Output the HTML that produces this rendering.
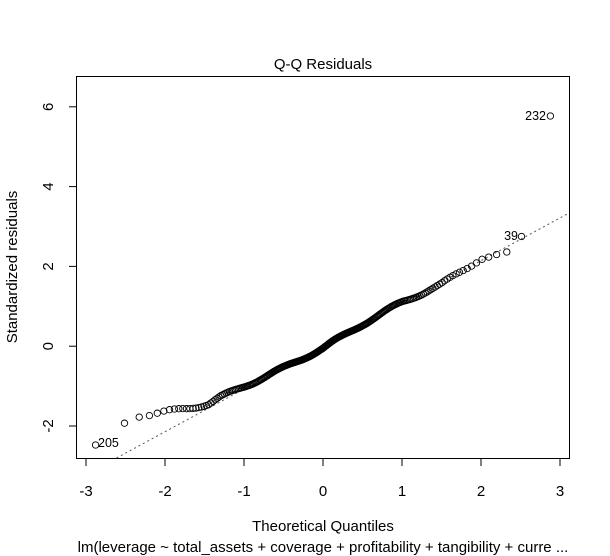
<!DOCTYPE html>
<html><head><meta charset="utf-8"><style>
html,body{margin:0;padding:0;background:#fff;}
svg{display:block;font-family:"Liberation Sans",Arial,sans-serif;}
</style></head><body>
<svg id="s" width="610" height="556" viewBox="0 0 610 556" xmlns="http://www.w3.org/2000/svg">
<rect x="0" y="0" width="610" height="556" fill="#fff"/>
<rect x="76.5" y="76.5" width="493" height="382" fill="none" stroke="#000" stroke-width="1"/>
<text x="323" y="69" font-size="15" text-anchor="middle">Q-Q Residuals</text>
<g stroke="#000" stroke-width="1">
<line x1="86" y1="458.5" x2="86" y2="466"/><line x1="165" y1="458.5" x2="165" y2="466"/>
<line x1="244" y1="458.5" x2="244" y2="466"/><line x1="323" y1="458.5" x2="323" y2="466"/>
<line x1="402" y1="458.5" x2="402" y2="466"/><line x1="481" y1="458.5" x2="481" y2="466"/>
<line x1="560" y1="458.5" x2="560" y2="466"/>
<line x1="69" y1="426" x2="76.5" y2="426"/><line x1="69" y1="346.2" x2="76.5" y2="346.2"/>
<line x1="69" y1="266.4" x2="76.5" y2="266.4"/><line x1="69" y1="186.6" x2="76.5" y2="186.6"/>
<line x1="69" y1="106.8" x2="76.5" y2="106.8"/>
</g>
<g font-size="15" text-anchor="middle">
<text x="86" y="496">-3</text><text x="165" y="496">-2</text><text x="244" y="496">-1</text>
<text x="323" y="496">0</text><text x="402" y="496">1</text><text x="481" y="496">2</text><text x="560" y="496">3</text>
<text transform="translate(53,426) rotate(-90)">-2</text>
<text transform="translate(53,346.2) rotate(-90)">0</text>
<text transform="translate(53,266.4) rotate(-90)">2</text>
<text transform="translate(53,186.6) rotate(-90)">4</text>
<text transform="translate(53,106.8) rotate(-90)">6</text>
<text x="323" y="531">Theoretical Quantiles</text>
<text x="323" y="552">lm(leverage ~ total_assets + coverage + profitability + tangibility + curre ...</text>
<text transform="translate(17,267) rotate(-90)">Standardized residuals</text>
</g>
<line x1="116.5" y1="458" x2="569.5" y2="212.8" stroke="#555" stroke-width="1" stroke-dasharray="2,3"/>
<g id="pts" fill="none" stroke="#000" stroke-width="0.9"></g>
<g font-size="12.5">
<text x="546" y="120" text-anchor="end">232</text>
<text x="518" y="240" text-anchor="end">39</text>
<text x="98" y="447">205</text>
</g>
</svg>
<script>
function qn(p){var a=[-39.69683028665376,220.9460984245205,-275.9285104469687,138.357751867269,-30.66479806614716,2.506628277459239],b=[-54.47609879822406,161.5858368580409,-155.6989798598866,66.80131188771972,-13.28068155288572],c=[-0.007784894002430293,-0.3223964580411365,-2.400758277161838,-2.549732539343734,4.374664141464968,2.938163982698783],d=[0.007784695709041462,0.3224671290700398,2.445134137142996,3.754408661907416];var q,r;if(p<0.02425){q=Math.sqrt(-2*Math.log(p));return(((((c[0]*q+c[1])*q+c[2])*q+c[3])*q+c[4])*q+c[5])/((((d[0]*q+d[1])*q+d[2])*q+d[3])*q+1);}if(p>1-0.02425){q=Math.sqrt(-2*Math.log(1-p));return-(((((c[0]*q+c[1])*q+c[2])*q+c[3])*q+c[4])*q+c[5])/((((d[0]*q+d[1])*q+d[2])*q+d[3])*q+1);}q=p-0.5;r=q*q;return(((((a[0]*r+a[1])*r+a[2])*r+a[3])*r+a[4])*r+a[5])*q/(((((b[0]*r+b[1])*r+b[2])*r+b[3])*r+b[4])*r+1);}
var K=[[-3,-2.45],[-2.88,-2.45],[-2.55,-2.0],[-2.35,-1.75],[-2.0,-1.65],[-1.7,-1.55],[-1.45,-1.45],[-1.3,-1.28],[-1.1,-1.1],[-0.5,-0.55],[0,-0.05],[0.5,0.55],[1,1.1],[1.5,1.55],[2,2.2],[2.3,2.3],[2.45,2.45],[2.55,2.75],[2.7,2.8],[2.88,5.77],[3,5.8]];
function f(q){for(var i=0;i<K.length-1;i++){if(q<=K[i+1][0]){var t=(q-K[i][0])/(K[i+1][0]-K[i][0]);return K[i][1]+t*(K[i+1][1]-K[i][1]);}}return 5.8;}
var n=250,g=document.getElementById('pts'),h='';
for(var i=1;i<=n;i++){var q=qn((i-0.5)/n),r=f(q)+0.04*Math.sin(q*9);if(i==n)r=5.77;if(i==n-1)r=2.75;
h+='<circle cx="'+(323+79*q).toFixed(1)+'" cy="'+(346.2-39.9*r).toFixed(1)+'" r="3.2"/>';}
g.innerHTML=h;
</script>
</body></html>
